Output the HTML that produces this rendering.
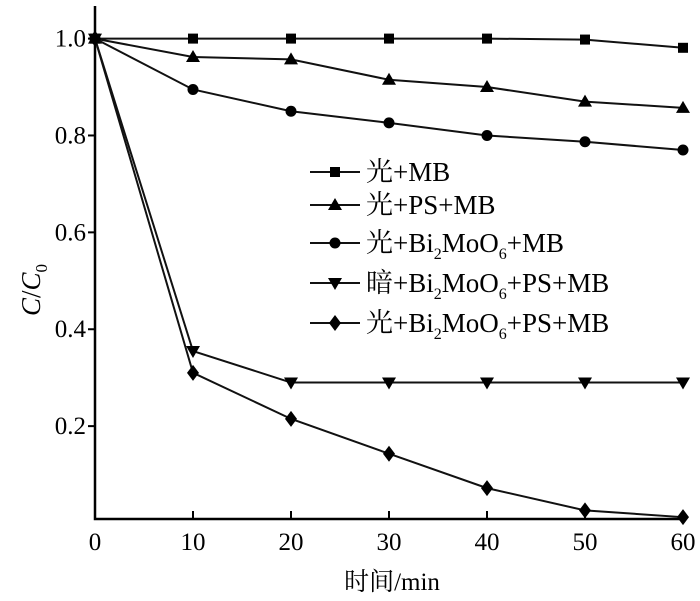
<!DOCTYPE html>
<html><head><meta charset="utf-8"><style>
html,body{margin:0;padding:0;background:#fff;}
svg{display:block;font-family:"Liberation Serif","Noto Serif CJK SC",serif;}
</style></head><body>
<svg id="chart" width="700" height="601" viewBox="0 0 700 601" xmlns="http://www.w3.org/2000/svg">
<g id="axes"></g>
<g id="series"></g>
<g id="legend"></g>
<text x="392" y="590" font-size="25" text-anchor="middle">时间/min</text>
<text transform="translate(40,290) rotate(-90)" font-size="27" text-anchor="middle"><tspan font-style="italic">C</tspan>/<tspan font-style="italic">C</tspan><tspan font-size="17" dy="7">0</tspan></text>
</svg>
<script>
const xValues=[0,10,20,30,40,50,60];
const xTicks=[0,10,20,30,40,50,60];
const yTicks=[0.2,0.4,0.6,0.8,1.0];
const yTickLabels=["0.2","0.4","0.6","0.8","1.0"];
const sLightMB=[1.0,1.0,1.0,1.0,1.0,0.998,0.981];
const sLightPS=[1.0,0.962,0.957,0.915,0.9,0.87,0.857];
const sLightBi=[1.0,0.895,0.85,0.826,0.80,0.787,0.77];
const sDarkBiPS=[1.0,0.355,0.29,0.29,0.29,0.29,0.29];
const sLightBiPS=[1.0,0.31,0.215,0.143,0.072,0.026,0.012];
const names=["light-mb","light-ps-mb","light-bi2moo6-mb","dark-bi2moo6-ps-mb","light-bi2moo6-ps-mb"];
const markers=["square","triangle","circle","triangle-down","diamond"];
const NS="http://www.w3.org/2000/svg";
const X=v=>95+(v/60)*588;
const Y=v=>523-v*484.4;
function mk(tag,attrs,parent){const e=document.createElementNS(NS,tag);for(const k in attrs)e.setAttribute(k,attrs[k]);parent.appendChild(e);return e;}
const axes=document.getElementById('axes');
let a=mk('path',{d:'M95,6 L95,519 L684,519',fill:'none',stroke:'#000','stroke-width':2.5},axes);


xTicks.forEach(t=>{
  const l=mk('line',{x1:X(t),x2:X(t),y1:519,y2:511,stroke:'#000','stroke-width':2},axes);
  
  
  const tx=mk('text',{x:X(t),y:550,'font-size':25,'text-anchor':'middle'},axes);
  tx.textContent=String(t);
  
  
});
yTicks.forEach((t,i)=>{
  const l=mk('line',{x1:88,x2:95,y1:Y(t),y2:Y(t),stroke:'#000','stroke-width':2},axes);
  
  
  const tx=mk('text',{x:86,y:Y(t)+8,'font-size':25,'text-anchor':'end'},axes);
  tx.textContent=yTickLabels[i];
  
  
});
function marker(type,x,y,parent){
  let e;
  if(type==='square')e=mk('rect',{x:x-5,y:y-5,width:10,height:10},parent);
  else if(type==='circle')e=mk('circle',{cx:x,cy:y,r:5.5},parent);
  else if(type==='triangle')e=mk('polygon',{points:`${x},${y-7} ${x-7},${y+5} ${x+7},${y+5}`},parent);
  else if(type==='triangle-down')e=mk('polygon',{points:`${x},${y+7} ${x-7},${y-5} ${x+7},${y-5}`},parent);
  else e=mk('polygon',{points:`${x},${y-8} ${x-6},${y} ${x},${y+8} ${x+6},${y}`},parent);
  e.setAttribute('fill','#000');
  return e;
}
const all=[sLightMB,sLightPS,sLightBi,sDarkBiPS,sLightBiPS];
const sg=document.getElementById('series');
all.forEach((s,k)=>{
  const g=mk('g',{},sg);
  
  
  const p=mk('polyline',{points:s.map((v,i)=>X(xValues[i])+','+Y(v)).join(' '),fill:'none',stroke:'#111','stroke-width':2},g);
  
  
  s.forEach((v,i)=>{
    const m=marker(markers[k],X(xValues[i]),Y(v),g);
    
    
  });
});
const lg=document.getElementById('legend');
const labels=['光+MB','光+PS+MB','光+Bi<tspan font-size="16" dy="7">2</tspan><tspan dy="-7">MoO</tspan><tspan font-size="16" dy="7">6</tspan><tspan dy="-7">+MB</tspan>',
'暗+Bi<tspan font-size="16" dy="7">2</tspan><tspan dy="-7">MoO</tspan><tspan font-size="16" dy="7">6</tspan><tspan dy="-7">+PS+MB</tspan>',
'光+Bi<tspan font-size="16" dy="7">2</tspan><tspan dy="-7">MoO</tspan><tspan font-size="16" dy="7">6</tspan><tspan dy="-7">+PS+MB</tspan>'];
const rowsY=[172,205,243,283,323];
labels.forEach((t,k)=>{
  const g=mk('g',{},lg);
  
  
  const y=rowsY[k];
  mk('line',{x1:310,x2:360,y1:y,y2:y,stroke:'#111','stroke-width':2},g);
  marker(markers[k],335,y,g);
  const tx=mk('text',{x:366,y:y+9,'font-size':27},g);
  tx.innerHTML=t;
});
</script>
</body></html>
